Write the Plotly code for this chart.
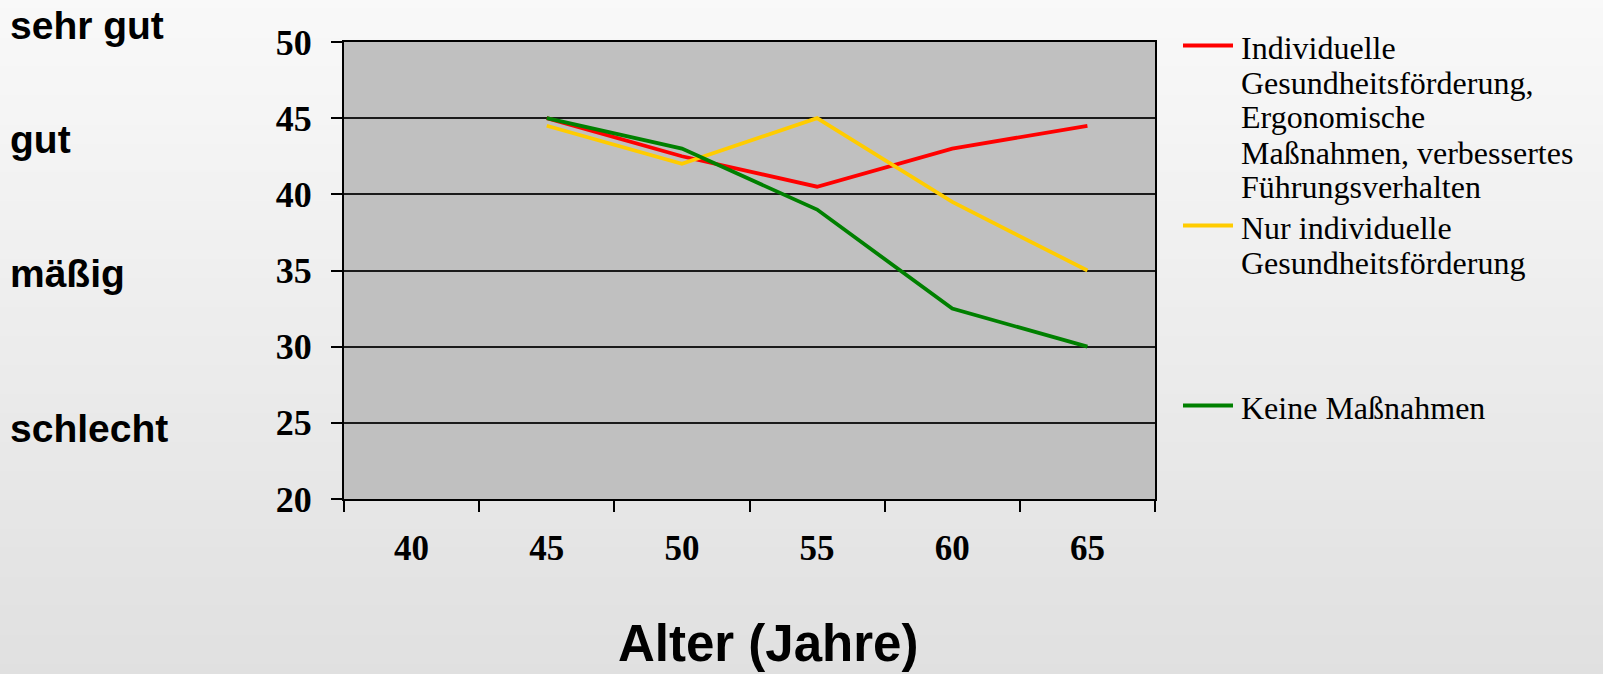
import plotly.graph_objects as go

# ---- data ----
age_categories = ["40", "45", "50", "55", "60", "65"]
series_ages = ["45", "50", "55", "60", "65"]
red_values = [45, 42.5, 40.5, 43, 44.5]
yellow_values = [44.5, 42, 45, 39.5, 35]
green_values = [45, 43, 39, 32.5, 30]
red_lines = ["Individuelle", "Gesundheitsförderung,", "Ergonomische",
             "Maßnahmen, verbessertes", "Führungsverhalten"]
yellow_lines = ["Nur individuelle", "Gesundheitsförderung"]
green_lines = ["Keine Maßnahmen"]
rating_labels = ["sehr gut", "gut", "mäßig", "schlecht"]
x_title = "Alter (Jahre)"

W, H = 1603, 674
L, R, T, B = 344, 1155, 42, 499
pw, ph = R - L, B - T


def px_x(px):
    return (px - L) / pw


def px_y(py):
    return (B - py) / ph


serif = "Liberation Serif, Times New Roman, serif"
sans = "Liberation Sans, Arial, sans-serif"

series = [
    (red_lines, red_values, "#FF0000", 47.5),
    (yellow_lines, yellow_values, "#FFCC00", 227.5),
    (green_lines, green_values, "#008000", 407.5),
]

fig = go.Figure()
for lines, vals, color, _ in series:
    fig.add_trace(go.Scatter(x=series_ages, y=vals, mode="lines", name=" ".join(lines),
                             line=dict(color=color, width=3.8), showlegend=False))

# background gradient bands (paper) and plot area fill
shapes = []
N = 70
top_c, bot_c = 249, 224
for i in range(N):
    y0p = i * H / N
    y1p = (i + 1) * H / N + 1
    t = (i + 0.5) / N
    c = round(top_c + (bot_c - top_c) * t)
    shapes.append(dict(type="rect", xref="paper", yref="paper",
                       x0=px_x(-5), x1=px_x(W + 5), y0=px_y(y1p), y1=px_y(max(y0p - 1, -5) if i else -5),
                       fillcolor=f"rgb({c},{c},{c})", line=dict(width=0), layer="below"))
shapes.append(dict(type="rect", xref="x domain", yref="y domain", x0=0, x1=1, y0=0, y1=1,
                   fillcolor="#C0C0C0", line=dict(width=0), layer="below"))

# legend keys and texts (drawn manually to match line spacing)
LINE_STEP = 35
for lines, vals, color, y_first in series:
    shapes.append(dict(type="line", xref="paper", yref="paper",
                       x0=px_x(1183), x1=px_x(1233), y0=px_y(y_first - 2), y1=px_y(y_first - 2),
                       line=dict(color=color, width=3.8)))
    for k, txt in enumerate(lines):
        fig.add_annotation(text=txt, xref="paper", yref="paper",
                           x=px_x(1239), y=px_y(y_first + k * LINE_STEP),
                           xanchor="left", yanchor="middle", showarrow=False,
                           font=dict(family=serif, size=32, color="black"))

fig.update_layout(
    width=W, height=H,
    margin=dict(l=L, r=W - R, t=T, b=H - B, pad=0),
    paper_bgcolor="#EEEEEE",
    plot_bgcolor="rgba(0,0,0,0)",
    showlegend=False,
    shapes=shapes,
    xaxis=dict(type="category", categoryorder="array", categoryarray=age_categories,
               range=[-0.5, len(age_categories) - 0.5], tickson="boundaries",
               tickmode="array", tickvals=age_categories, ticktext=age_categories,
               ticks="outside", ticklen=11, tickwidth=1.5, tickcolor="black",
               showline=True, linecolor="black", linewidth=2, mirror=True,
               showgrid=False, zeroline=False, ticklabelstandoff=17,
               tickfont=dict(family=serif, size=35, color="black", weight="bold")),
    yaxis=dict(range=[20, 50], tick0=20, dtick=5, ticks="outside", ticklen=11,
               tickwidth=1.5, tickcolor="black",
               showline=True, linecolor="black", linewidth=2, mirror=True,
               showgrid=True, gridcolor="#1a1a1a", gridwidth=1.5, zeroline=False,
               ticklabelstandoff=12,
               tickfont=dict(family=serif, size=36, color="black", weight="bold")),
)

rating_y = [25.5, 139.5, 273, 428]
for lab, py in zip(rating_labels, rating_y):
    fig.add_annotation(text=lab, xref="paper", yref="paper", x=px_x(8), y=px_y(py),
                       xanchor="left", yanchor="middle", showarrow=False,
                       font=dict(family=sans, size=39, color="black", weight="bold"))

fig.add_annotation(text=x_title, xref="paper", yref="paper", x=px_x(768), y=px_y(643),
                   xanchor="center", yanchor="middle", showarrow=False,
                   font=dict(family=sans, size=51, color="black", weight="bold"))

fig.write_html("out.html", config={"displayModeBar": False},
               post_script="document.body.style.margin='0';document.body.style.overflow='hidden';")
